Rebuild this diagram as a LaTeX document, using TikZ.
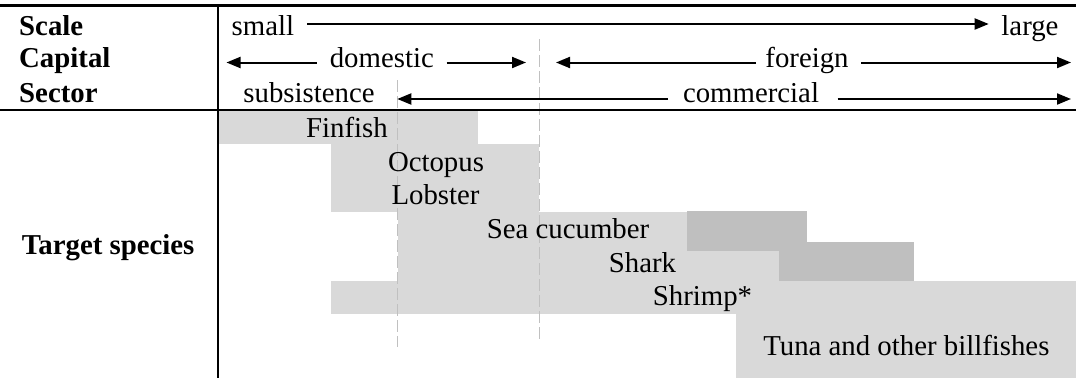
\documentclass[tikz,border=0pt]{standalone}
\usepackage{fontspec}
\setmainfont{Liberation Serif}
\usetikzlibrary{arrows.meta}
\definecolor{lightg}{HTML}{D9D9D9}
\definecolor{darkg}{HTML}{BFBFBF}
\definecolor{dashg}{HTML}{C0C0C0}
\tikzset{
  txt/.style={inner sep=0pt, anchor=base, font=\fontsize{28.8}{33}\selectfont},
  hdr/.style={inner sep=0pt, anchor=base west, font=\fontsize{28.8}{33}\selectfont\bfseries},
  arr/.style={line width=2pt, -{Triangle[length=14pt,width=11pt]}},
  lightbox/.style={fill=lightg, draw=none},
  darkbox/.style={fill=darkg, draw=none},
  guide/.style={draw=dashg, line width=1.3pt, dash pattern=on 12pt off 4pt},
  thickrule/.style={line width=3.2pt},
  thinrule/.style={line width=2pt}
}
\begin{document}
\begin{tikzpicture}[x=1pt,y=-1pt]
\useasboundingbox (0,0) rectangle (1076,378);
\fill[white] (0,0) rectangle (1076,378);

% grey bands
\fill[lightbox] (218,110) rectangle (478,144.3);
\fill[lightbox] (331,144.3) rectangle (539,211.7);
\fill[lightbox] (397.5,211.7) rectangle (687,251);
\fill[lightbox] (397.5,251) rectangle (779,281);
\fill[lightbox] (331,281) rectangle (736,314);
\fill[lightbox] (736,281) rectangle (1076,378);
\fill[darkbox] (687,211) rectangle (807,251);
\fill[darkbox] (779,242) rectangle (914,281);

% dashed guides
\draw[guide] (397.3,80) -- (397.3,347);
\draw[guide] (539.3,39) -- (539.3,341);

% rules
\draw[thickrule] (0,5.6) -- (1076,5.6);
\draw[thinrule] (0,109.9) -- (1076,109.9);
\draw[thinrule] (218.3,7) -- (218.3,378);

% header labels
\node[hdr] (lscale) at (19,35.7) {Scale};
\node[hdr] (lcap) at (19,67.7) {Capital};
\node[hdr] (lsec) at (19,102) {Sector};
\node[hdr] (ltarget) at (21.7,254.3) {Target species};

% header texts
\node[txt, anchor=base west] (small) at (231.5,35.7) {small};
\node[txt, anchor=base east] (large) at (1058.7,35.7) {large};
\node[txt] (dom) at (381.8,67.7) {domestic};
\node[txt] (for) at (807,67.7) {foreign};
\node[txt] (sub) at (309,102) {subsistence};
\node[txt] (com) at (751,102) {commercial};

% arrow end coordinates
\coordinate (sc1) at (307,24);
\coordinate (sc2) at (988.7,24);
\coordinate (d0) at (226.5,62.5);
\coordinate (d1) at (316.7,62.5);
\coordinate (d2) at (446.7,62.5);
\coordinate (d3) at (526,62.5);
\coordinate (f0) at (556,62.5);
\coordinate (f1) at (756,62.5);
\coordinate (f2) at (861,62.5);
\coordinate (f3) at (1071,62.5);
\coordinate (c0) at (397.3,99);
\coordinate (c1) at (668,99);
\coordinate (c2) at (837.5,99);
\coordinate (c3) at (1071,99);

\draw[arr] (sc1) -- (sc2);
\draw[arr] (d1) -- (d0);
\draw[arr] (d2) -- (d3);
\draw[arr] (f1) -- (f0);
\draw[arr] (f2) -- (f3);
\draw[arr] (c1) -- (c0);
\draw[arr] (c2) -- (c3);

% species
\node[txt] (finfish) at (347,137.3) {Finfish};
\node[txt] (octopus) at (436,171.7) {Octopus};
\node[txt] (lobster) at (435.5,204.3) {Lobster};
\node[txt] (seacuc) at (568,238.3) {Sea cucumber};
\node[txt] (shark) at (642.5,272.5) {Shark};
\node[txt] (shrimp) at (702.5,305.5) {Shrimp*};
\node[txt] (tuna) at (906.4,355.7) {Tuna and other billfishes};
\end{tikzpicture}
\end{document}
